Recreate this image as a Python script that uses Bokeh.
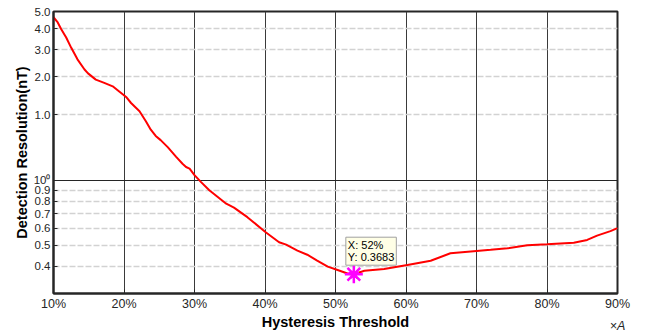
from bokeh.plotting import figure
from bokeh.models import FixedTicker, Grid, Label, Range1d, LinearAxis
from bokeh.embed import file_html
from bokeh.resources import INLINE

# ---------------- data ----------------
threshold_pct = [10.0, 10.6, 11.1, 11.8, 12.5, 13.4, 14.4, 14.9, 16.0, 17.2, 18.4, 19.1,
                 20.3, 21.0, 22.2, 23.1, 23.8, 24.5, 25.2, 26.2, 27.4, 28.3, 28.8, 29.3,
                 30.0, 30.9, 32.1, 34.5, 35.6, 37.5, 40.1, 42.0, 43.0, 44.6, 46.0, 47.4,
                 48.9, 50.3, 51.9, 52.6, 54.1, 56.9, 60.2, 63.5, 66.3, 69.6, 72.0, 74.4,
                 77.2, 80.0, 83.8, 85.7, 87.1, 89.0, 90.0]
resolution_nT = [5.65, 5.34, 4.97, 4.55, 4.09, 3.61, 3.24, 3.11, 2.91, 2.81, 2.71, 2.60,
                 2.42, 2.27, 2.08, 1.87, 1.71, 1.60, 1.53, 1.42, 1.28, 1.19, 1.15, 1.13,
                 1.055, 0.982, 0.899, 0.779, 0.747, 0.675, 0.575, 0.517, 0.504, 0.473, 0.453, 0.425,
                 0.399, 0.385, 0.369, 0.3683, 0.382, 0.389, 0.406, 0.425, 0.460, 0.470, 0.477, 0.485,
                 0.501, 0.506, 0.514, 0.530, 0.555, 0.582, 0.601]

tip_x = [52.6]
tip_y = [0.3683]
tip_text = "X: 52%\nY: 0.3683"

x_ticks = [10, 20, 30, 40, 50, 60, 70, 80, 90]
x_tick_labels = ["10%", "20%", "30%", "40%", "50%", "60%", "70%", "80%", "90%"]
y_ticks = [0.4, 0.5, 0.6, 0.7, 0.8, 0.9, 1.0, 2.0, 3.0, 4.0, 5.0, 6.0]
y_tick_labels = ["0.4", "0.5", "0.6", "0.7", "0.8", "0.9", "10\u2070", "1.0", "2.0", "3.0", "4.0", "5.0"]
y_dashed_grid = [0.4, 0.5, 0.6, 0.7, 0.8, 0.9, 2.0, 3.0, 4.0, 5.0]
y_solid_grid = [1.0]

x_label = "Hysteresis Threshold"
y_label = "Detection Resolution(nT)"
x_unit_pos = [90]
x_unit_text = ["\u00d7A"]

FONT = "Liberation Sans"
DARK = "#262626"

p = figure(x_range=Range1d(10, 90), y_range=Range1d(0.3, 6.0), y_axis_type="log",
           frame_width=564, frame_height=282,
           min_border_left=53, min_border_right=36, min_border_top=11, min_border_bottom=40,
           output_backend="svg", toolbar_location=None,
           background_fill_color="white", border_fill_color="white")
p.outline_line_color = DARK
p.outline_line_width = 2

# grids
p.xgrid.ticker = FixedTicker(ticks=x_ticks)
p.xgrid.grid_line_color = "#3a3a3a"
p.xgrid.grid_line_width = 1
p.ygrid.ticker = FixedTicker(ticks=y_dashed_grid)
p.ygrid.grid_line_color = "#d2d2d2"
p.ygrid.grid_line_width = 1.5
p.ygrid.grid_line_dash = "6 2"
solid = Grid(dimension=1, ticker=FixedTicker(ticks=y_solid_grid),
             grid_line_color=DARK, grid_line_width=1.2)
p.add_layout(solid)

# bottom axis
xa = p.xaxis[0]
xa.ticker = FixedTicker(ticks=x_ticks)
xa.major_label_overrides = {float(t): l for t, l in zip(x_ticks, x_tick_labels)}
xa.major_tick_in = 4
xa.major_tick_out = 0
xa.minor_tick_line_color = None
xa.axis_line_width = 2
xa.axis_line_color = DARK
xa.major_tick_line_color = DARK
xa.major_label_text_font = FONT
xa.major_label_text_font_size = "12.5px"
xa.major_label_text_color = DARK
xa.major_label_standoff = 3
xa.axis_label = x_label
xa.axis_label_text_font = FONT
xa.axis_label_text_font_size = "14.5px"
xa.axis_label_text_font_style = "bold"
xa.axis_label_text_color = "#000000"
xa.axis_label_standoff = 0

# unit note "×A" under the right end, on the axis-label line
ua = LinearAxis(ticker=FixedTicker(ticks=x_unit_pos),
                major_label_overrides={float(t): l for t, l in zip(x_unit_pos, x_unit_text)},
                axis_line_color=None, major_tick_line_color=None, minor_tick_line_color=None,
                major_tick_in=0, major_tick_out=0, major_label_standoff=-14,
                major_label_text_font=FONT, major_label_text_font_size="12.5px",
                major_label_text_font_style="italic", major_label_text_color=DARK)
p.add_layout(ua, "below")

# left axis
ya = p.yaxis[0]
ya.ticker = FixedTicker(ticks=y_ticks)
ya.major_label_overrides = {float(t): l for t, l in zip(y_ticks, y_tick_labels)}
ya.major_tick_in = 4
ya.major_tick_out = 0
ya.minor_tick_line_color = None
ya.axis_line_width = 2
ya.axis_line_color = DARK
ya.major_tick_line_color = DARK
ya.major_label_text_font = FONT
ya.major_label_text_font_size = "11.5px"
ya.major_label_text_color = DARK
ya.major_label_standoff = 3
ya.axis_label = y_label
ya.axis_label_text_font = FONT
ya.axis_label_text_font_size = "14.5px"
ya.axis_label_text_font_style = "bold"
ya.axis_label_text_color = "#000000"
ya.axis_label_standoff = 1

# curve
p.line(threshold_pct, resolution_nT, line_color="#ff0000", line_width=2)

# data tip marker
p.scatter(tip_x, tip_y, marker="star", size=11, fill_color="#ff00ff", line_color="#ff00ff")
p.scatter(tip_x, tip_y, marker="asterisk", size=18, line_color="#ff00ff", line_width=2.5)

tip = Label(x=tip_x[0], y=tip_y[0], text=tip_text, x_offset=-8, y_offset=9,
            text_font=FONT, text_font_size="11px", text_color="#000000",
            text_line_height=1.0,
            background_fill_color="#ffffe6", border_line_color="#a0a0a0", border_line_width=1,
            padding=2)
p.add_layout(tip)

open("out.html", "w").write(file_html(p, INLINE))
